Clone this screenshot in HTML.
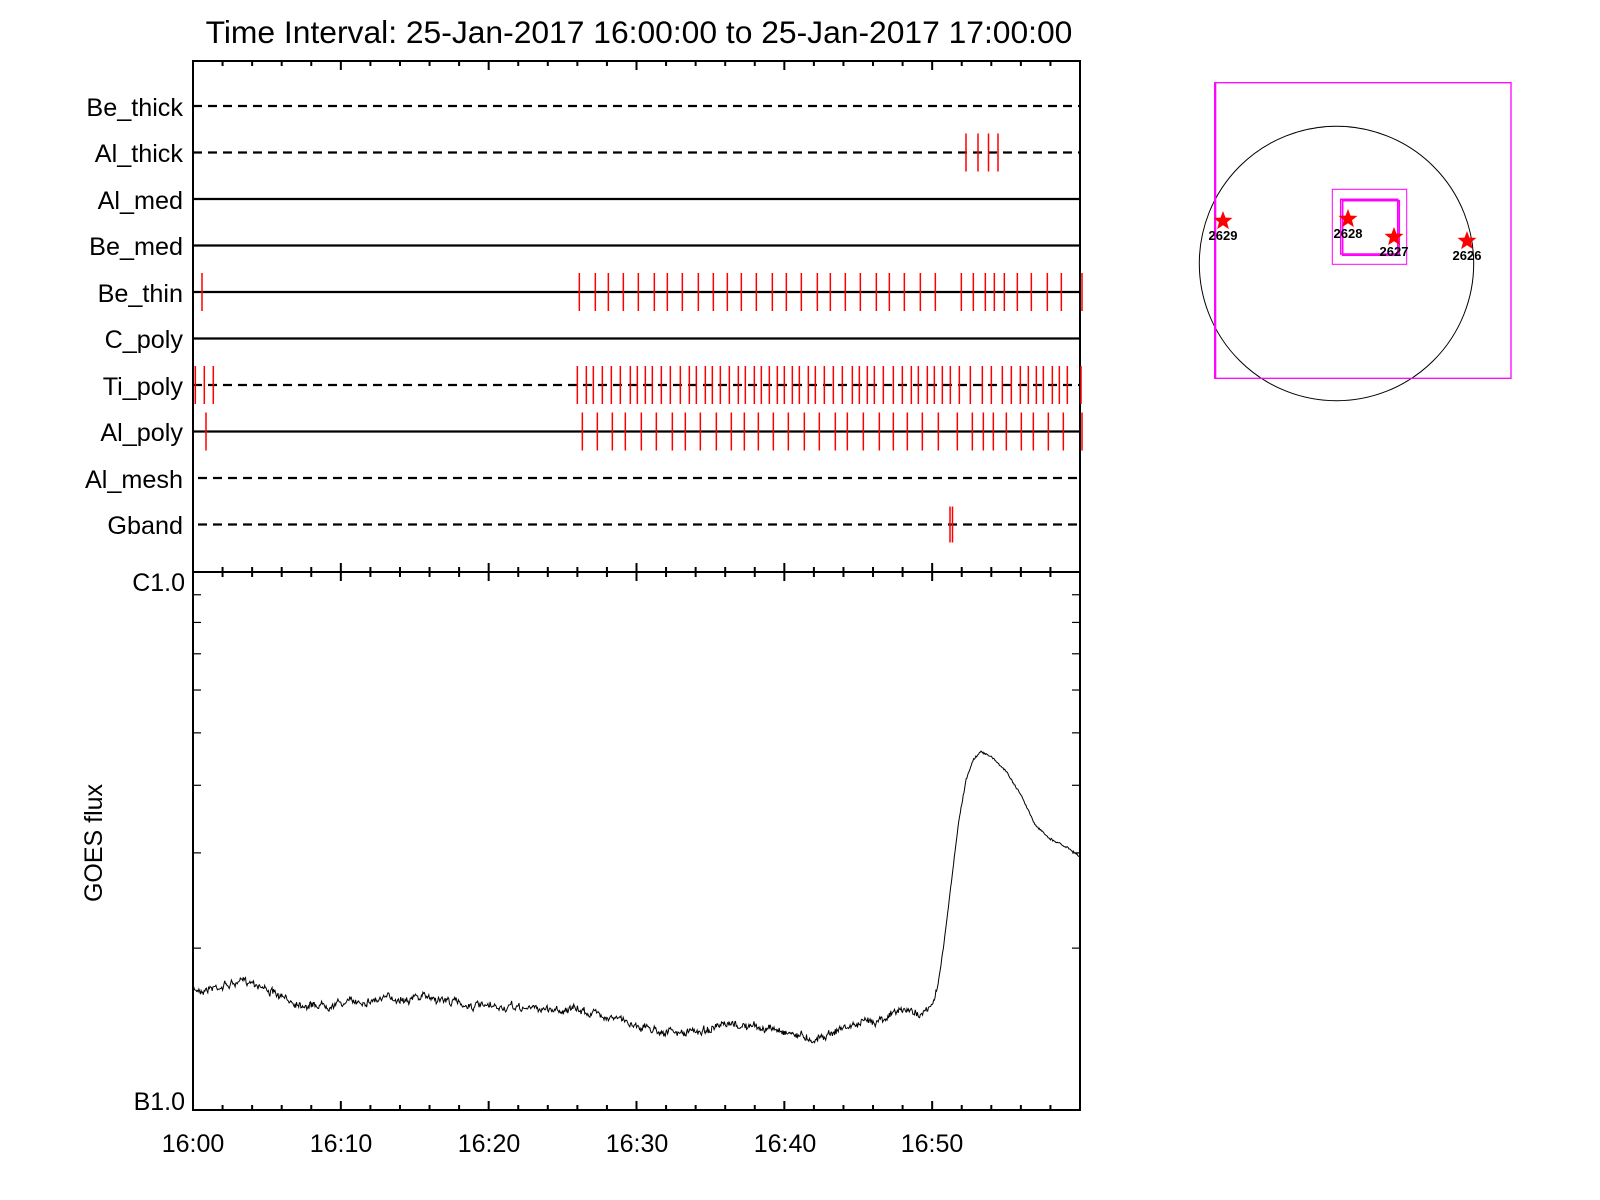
<!DOCTYPE html>
<html><head><meta charset="utf-8"><style>
html,body{margin:0;padding:0;background:#fff;}
svg{display:block;font-family:"Liberation Sans",Arial,sans-serif;}
</style></head><body>
<svg id="s" width="1600" height="1200" viewBox="0 0 1600 1200" xmlns="http://www.w3.org/2000/svg">
<rect width="1600" height="1200" fill="#fff"/>
<text x="639" y="43" font-size="31.8" text-anchor="middle">Time Interval: 25-Jan-2017 16:00:00 to 25-Jan-2017 17:00:00</text>
<g font-size="25.2" text-anchor="end">
<text x="183" y="116">Be_thick</text>
<text x="183" y="162">Al_thick</text>
<text x="183" y="209">Al_med</text>
<text x="183" y="255">Be_med</text>
<text x="183" y="302">Be_thin</text>
<text x="183" y="348">C_poly</text>
<text x="183" y="395">Ti_poly</text>
<text x="183" y="441">Al_poly</text>
<text x="183" y="488">Al_mesh</text>
<text x="183" y="534">Gband</text>
<text x="185" y="591" font-size="25">C1.0</text>
<text x="185" y="1110" font-size="25">B1.0</text>
</g>
<text transform="translate(102,843) rotate(-90)" font-size="25" text-anchor="middle">GOES flux</text>
<g font-size="25" text-anchor="middle">
<text x="193" y="1152">16:00</text>
<text x="341" y="1152">16:10</text>
<text x="489" y="1152">16:20</text>
<text x="637" y="1152">16:30</text>
<text x="785" y="1152">16:40</text>
<text x="932" y="1152">16:50</text>
</g>
<g id="g" stroke="#000" fill="none"></g>
<g fill="none">
<circle cx="1336.5" cy="263.5" r="137.2" stroke="#000" stroke-width="1"/>
<rect x="1214.7" y="82.7" width="296.3" height="295.6" stroke="#f0f" stroke-width="1.3"/>
<line x1="1215.3" y1="82.7" x2="1215.3" y2="378.3" stroke="#f0f" stroke-width="2"/>
<rect x="1332.3" y="189.3" width="74.4" height="75" stroke="#f0f" stroke-width="1"/>
<rect x="1340.7" y="199.3" width="57" height="54.7" stroke="#f0f" stroke-width="1.5"/>
<rect x="1342.7" y="200.7" width="56.6" height="54.6" stroke="#f0f" stroke-width="1.5"/>
</g>
<g id="stars" fill="#f00"></g>
<g font-size="13" font-weight="bold" text-anchor="middle">
<text x="1223" y="240">2629</text>
<text x="1348" y="238">2628</text>
<text x="1394" y="256">2627</text>
<text x="1467" y="260">2626</text>
</g>
</svg>
<script>
var NS="http://www.w3.org/2000/svg",g=document.getElementById('g');
function el(t,a,p){var e=document.createElementNS(NS,t);for(var k in a)e.setAttribute(k,a[k]);(p||g).appendChild(e);return e;}
function ln(x1,y1,x2,y2,w,c,d){var a={x1:x1,y1:y1,x2:x2,y2:y2,'stroke-width':w||2};if(c)a.stroke=c;if(d)a['stroke-dasharray']=d;return el('line',a);}
var L=193,R=1080,T=61,M=572,B=1110,pm=(R-L)/60;
el('rect',{x:L,y:T,width:R-L,height:B-T,'stroke-width':2});
ln(L,M,R,M,2);
for(var m=0;m<=60;m+=2){var x=L+m*pm,big=m%10==0,h=big?9:5;
 ln(x,T,x,T+h,2);ln(x,M-h,x,M+h,2);ln(x,B,x,B-h,2);}
var rows=[[106,1],[152.5,1],[199,0],[245.5,0],[292,0],[338.5,0],[385,1],[431.5,0],[478,1],[524.5,1]];
rows.forEach(function(r,i){var x1=L,x2=R;if(i>=8){x1=198;x2=1078;}
 ln(x1,r[0],x2,r[0],2.2,null,r[1]?'9 6':null);});
function reds(xs,y,h){xs.forEach(function(x){ln(x,y-h,x,y+h,1.5,'#f00');});}
var z=function(a,o){return a.map(function(v){return v/3+o;});};
reds([202].concat(z([58,106,145,190,235,283,322,367,415,460,502,544,589,637,679,724,772,811,856,901,949,988,1033,1081,1126,1204,1240,1276,1303,1333,1372,1414,1462,1504],560),[1082]),292,19);
reds([195.3,204.3,213.3].concat(z([52,79,100,127,154,181,211,232,256,277,304,331,361,388,409,436,457,481,508,535,556,583,604,628,652,673,697,718,745,766,793,820,847,877,898,922,943,970,1000,1027,1054,1075,1102,1123,1147,1171,1198,1231,1267,1294,1327,1354,1381,1405,1429,1450,1477,1498,1522],560),[1081]),385,19);
reds([206].concat(z([67,112,157,196,244,289,337,376,421,469,514,553,595,640,685,733,778,826,862,910,958,1000,1042,1087,1135,1192,1237,1270,1300,1339,1384,1420,1465,1510],560),[1082]),431.5,19);
reds([966,978,988.5,998],152.5,19);
reds([950,952.5],524.5,18);
var yC=570,yB=1111;
for(var k=2;k<=9;k++){var y=yB-Math.log10(k)*(yB-yC);ln(L,y,L+8,y,1.2);ln(R,y,R-8,y,1.2);}
var kp=[[0,966],[2,961],[4,956],[5,964],[6,974],[8,980],[10,978],[12,975],[14,973],[16,972],[18,978],[20,983],[23,983],[26,985],[28,990],[29,995],[31,1003],[33,1008],[35,1003],[37,1000],[40,1005],[42,1013],[44,1002],[46,995],[48,985],[49.5,988],[50,982],[50.4,960],[50.8,920],[51.3,860],[51.8,800],[52.3,760],[52.8,740],[53.3,733],[54,738],[55,752],[56,775],[57,805],[58,818],[59,825],[60,835]];
function interp(m){for(var i=1;i<kp.length;i++){if(m<=kp[i][0]){var a=kp[i-1],b=kp[i],t=(m-a[0])/(b[0]-a[0]);return a[1]+t*(b[1]-a[1]);}}return kp[kp.length-1][1];}
var seed=7;function rnd(){seed=(seed*16807)%2147483647;return seed/2147483647;}
var d='',n=1200,w=0;for(var i=0;i<=n;i++){var m=60*i/n,y=interp(m)*1.0256;w=w*0.8+(rnd()-0.5)*4;if(m<50.3)y+=w+(rnd()-0.5)*5;else y+=(rnd()-0.5)*2;
 var x=L+m*pm;d+=(i?'L':'M')+x.toFixed(1)+' '+y.toFixed(1);}
el('path',{d:d,'stroke-width':1});
var sg=document.getElementById('stars');
function star(cx,cy,r){var p='';for(var i=0;i<10;i++){var a=-Math.PI/2+i*Math.PI/5,rr=i%2?r*0.42:r;p+=(cx+rr*Math.cos(a)).toFixed(1)+','+(cy+rr*Math.sin(a)).toFixed(1)+' ';}el('polygon',{points:p},sg);}
star(1223,221,10);star(1348,219,10);star(1394,237,10);star(1467,241,10);
</script>
</body></html>
